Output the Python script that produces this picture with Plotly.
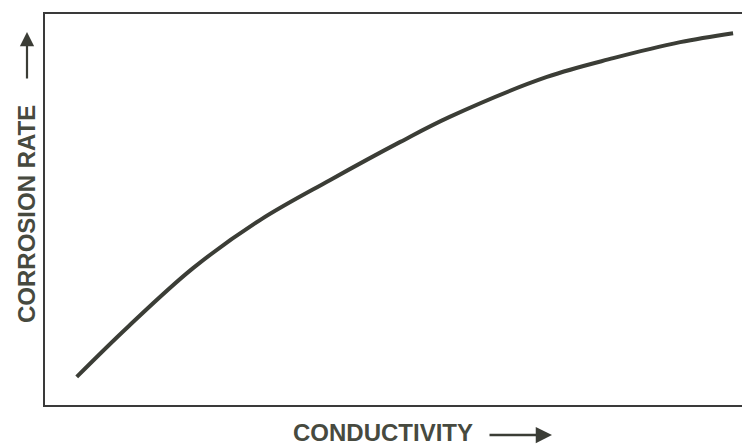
import plotly.graph_objects as go

# Data (arbitrary relative units, 0-100)
conductivity = [4.5, 11.6, 21.0, 30.5, 40.4, 50.4, 57.4, 71.2, 80.6, 90.1, 97.6]
corrosion_rate = [7.2, 19.7, 35.0, 47.3, 57.5, 67.3, 73.7, 83.9, 88.7, 92.8, 95.1]

x_title = "CONDUCTIVITY"
y_title = "CORROSION RATE"

# page is offset by the default 8px body margin
OFF = 8
W, H = 750 - OFF, 448 - OFF
ML, MR, MT, MB = 45 - OFF, 0, 14 - OFF, 43
PW, PH = W - ML - MR, H - MT - MB


def px(X):
    """page pixel x -> paper coordinate"""
    return (X - OFF - ML) / PW


def py(Y):
    """page pixel y -> paper coordinate"""
    return (H - MB - (Y - OFF)) / PH


ink = "#3b3d36"
frame = "#3a3a3a"

fig = go.Figure()
fig.add_trace(go.Scatter(
    x=conductivity, y=corrosion_rate, mode="lines",
    line=dict(color=ink, width=4, shape="spline", smoothing=1.0),
    hoverinfo="skip", showlegend=False,
))

font = dict(family="Liberation Sans, Arial, sans-serif", size=24, color="#474a3f",
            weight="bold")

annotations = [
    dict(text=x_title, xref="paper", yref="paper", x=px(383), y=py(432),
         xanchor="center", yanchor="middle", showarrow=False, font=font),
    dict(text=y_title, xref="paper", yref="paper", x=px(27), y=py(214),
         xanchor="center", yanchor="middle", showarrow=False, textangle=-90, font=font),
    # arrows next to axis titles
    dict(text="", xref="paper", yref="paper", x=px(552), y=py(435),
         ax=-64, ay=0, showarrow=True, arrowhead=2, arrowsize=1.3,
         arrowwidth=2.5, arrowcolor=ink),
    dict(text="", xref="paper", yref="paper", x=px(27), y=py(32),
         ax=0, ay=48, showarrow=True, arrowhead=2, arrowsize=1.3,
         arrowwidth=2.2, arrowcolor=ink),
]

fig.update_layout(
    width=W, height=H,
    margin=dict(l=ML, r=MR, t=MT, b=MB, pad=0),
    paper_bgcolor="white", plot_bgcolor="white",
    annotations=annotations,
    xaxis=dict(range=[0, 100], showgrid=False, zeroline=False, showticklabels=False,
               ticks="", showline=True, linecolor=frame, linewidth=2, mirror=True),
    yaxis=dict(range=[0, 100], showgrid=False, zeroline=False, showticklabels=False,
               ticks="", showline=True, linecolor=frame, linewidth=2, mirror=False),
)

fig.write_html("out.html")
